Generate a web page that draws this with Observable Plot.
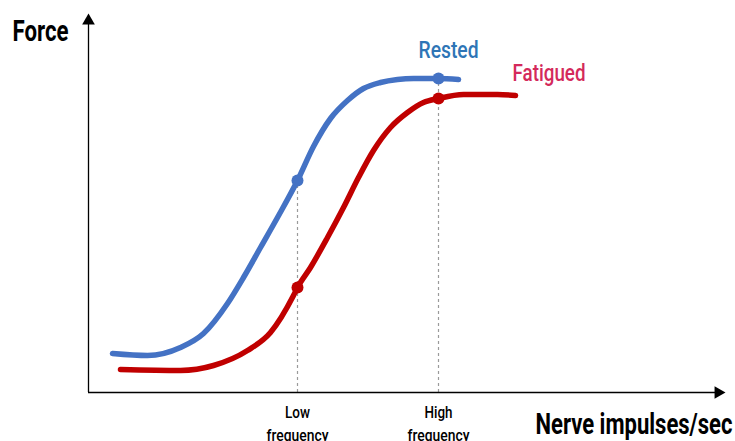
<!DOCTYPE html>
<html>
<head>
<meta charset="utf-8">
<script src="https://cdn.jsdelivr.net/npm/d3@7"></script>
<script src="https://cdn.jsdelivr.net/npm/@observablehq/plot@0.6"></script>
<style>
  html, body { margin: 0; padding: 0; background: #fff; }
  #chart svg { display: block; }
</style>
</head>
<body>
<div id="chart"></div>
<script>
// Curve data (arbitrary units: impulse rate vs force)
const restedX   = [24, 59, 92, 115, 139, 155, 172, 189, 209, 225, 242, 259, 275, 292, 309, 325, 350, 370];
const restedY   = [39, 37, 45, 59, 89, 115, 145, 175, 212, 246, 274, 292, 304, 310, 313, 314, 314, 313];
const fatiguedX = [32, 92, 125, 159, 182, 205, 209, 222, 239, 255, 270, 285, 302, 319, 335, 350, 375, 409, 427];
const fatiguedY = [23, 22, 27, 42, 60, 97, 105, 125, 155, 185, 215, 242, 265, 280, 290, 294, 298, 298, 297];

// Marked frequencies
const tickX      = [209, 350];
const tickLine1  = ["Low", "High"];
const tickLine2  = ["frequency", "frequency"];
const restedDotY   = [212, 314];
const fatiguedDotY = [105, 294];

// Series labels
const seriesNames = ["Rested", "Fatigued"];
const seriesColors = ["#4472C4", "#C00000"];
const labelColors  = ["#2E75B6", "#D42A5B"];
const labelX = [360, 424];
const labelY = [352, 329];

// Axis titles
const yTitle = "Force";
const xTitle = "Nerve impulses/sec";

// Axis extents
const xDomain = [0, 637];
const yDomain = [0, 380];
const xAxisEnd = 628;
const yAxisEnd = 370;
const xArrowHead = 629.7;
const yArrowHead = 371.7;

const FONT = "Roboto, 'Noto Sans', sans-serif";
// target rendered widths (condensed look)
const textWidths = {"Force": 56, "Nerve impulses/sec": 197, "Rested": 60, "Fatigued": 73, "Low": 25, "High": 28, "frequency": 62};

const rested = restedX.map((x, i) => ({x, y: restedY[i]}));
const fatigued = fatiguedX.map((x, i) => ({x, y: fatiguedY[i]}));
const ticks = tickX.map((x, i) => ({x, l1: tickLine1[i], l2: tickLine2[i], top: restedDotY[i]}));
const dots = tickX.flatMap((x, i) => [
  {x, y: restedDotY[i], c: seriesColors[0]},
  {x, y: fatiguedDotY[i], c: seriesColors[1]}
]);
const labels = seriesNames.map((name, i) => ({name, x: labelX[i], y: labelY[i], c: labelColors[i]}));

const plot = Plot.plot({
  width: 735,
  height: 441,
  marginLeft: 88,
  marginRight: 10,
  marginTop: 12,
  marginBottom: 49,
  x: {domain: xDomain, axis: null},
  y: {domain: yDomain, axis: null},
  style: {fontFamily: FONT, background: "#fff", overflow: "visible"},
  marks: [
    // dashed guides
    Plot.ruleX(ticks, {x: "x", y1: 0, y2: "top", stroke: "#9a9a9a", strokeWidth: 1.2, strokeDasharray: "3,3"}),
    // axes
    Plot.ruleY([0], {x1: 0, x2: xAxisEnd, stroke: "#000", strokeWidth: 1.3}),
    Plot.ruleX([0], {y1: 0, y2: yAxisEnd, stroke: "#000", strokeWidth: 1.3}),
    Plot.dot([{x: 0, y: yArrowHead}], {x: "x", y: "y", symbol: "triangle", r: 4.7, fill: "#000", stroke: "none"}),
    Plot.dot([{x: xArrowHead, y: 0}], {x: "x", y: "y", symbol: "triangle", r: 4.7, rotate: 90, fill: "#000", stroke: "none"}),
    // curves
    Plot.line(fatigued, {x: "x", y: "y", curve: "monotone-x", stroke: seriesColors[1], strokeWidth: 5.5, strokeLinecap: "round"}),
    Plot.line(rested, {x: "x", y: "y", curve: "monotone-x", stroke: seriesColors[0], strokeWidth: 5.5, strokeLinecap: "round"}),
    Plot.dot(dots, {x: "x", y: "y", r: 6, fill: "c", stroke: "none"}),
    // series labels
    Plot.text(labels.slice(0, 1), {x: "x", y: "y", text: "name", fill: "c", textAnchor: "middle", lineAnchor: "top", fontSize: 24, fontWeight: 500}),
    Plot.text(labels.slice(1), {x: "x", y: "y", text: "name", fill: "c", textAnchor: "start", lineAnchor: "top", fontSize: 24, fontWeight: 500}),
    // tick labels
    Plot.text(ticks, {x: "x", y: -13, text: "l1", lineAnchor: "top", fontSize: 17, fontWeight: 500, fill: "#000"}),
    Plot.text(ticks, {x: "x", y: -36, text: "l2", lineAnchor: "top", fontSize: 17, fontWeight: 500, fill: "#000"}),
    // axis titles
    Plot.text([yTitle], {x: -76, y: 372, text: d => d, fontSize: 29, fontWeight: "bold", fill: "#000", textAnchor: "start", lineAnchor: "top"}),
    Plot.text([xTitle], {x: 644, y: -21, text: d => d, fontSize: 29, fontWeight: "bold", fill: "#000", textAnchor: "end", lineAnchor: "top"})
  ]
});
// condense the text to match the narrow typeface of the original
d3.select(plot).selectAll("text").each(function() {
  const t = this.textContent;
  if (textWidths[t]) {
    this.setAttribute("textLength", textWidths[t]);
    this.setAttribute("lengthAdjust", "spacingAndGlyphs");
  }
});
document.getElementById("chart").appendChild(plot);
</script>
</body>
</html>
